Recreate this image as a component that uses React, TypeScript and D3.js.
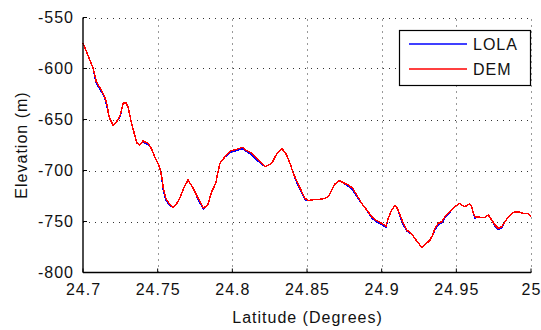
import React from "react";
import * as d3 from "d3";

const latitude = [24.7, 24.7067, 24.7089, 24.7123, 24.7145, 24.7161, 24.7174, 24.7201, 24.7223, 24.725, 24.7268, 24.7286, 24.7301, 24.7323, 24.7346, 24.7362, 24.738, 24.7402, 24.7435, 24.7457, 24.748, 24.7502, 24.7518, 24.7529, 24.7536, 24.7554, 24.7576, 24.7603, 24.7629, 24.7652, 24.7674, 24.7703, 24.7732, 24.7772, 24.7806, 24.7835, 24.7862, 24.7889, 24.7902, 24.7917, 24.7951, 24.7991, 24.8029, 24.8067, 24.8096, 24.813, 24.8174, 24.8219, 24.8264, 24.8297, 24.8331, 24.8364, 24.8386, 24.8408, 24.8438, 24.8465, 24.8487, 24.8509, 24.8554, 24.8587, 24.8621, 24.8643, 24.8665, 24.8688, 24.8716, 24.8743, 24.8777, 24.8806, 24.8833, 24.8866, 24.89, 24.8933, 24.8967, 24.9, 24.9029, 24.9044, 24.9067, 24.9089, 24.9105, 24.9123, 24.9145, 24.9168, 24.9201, 24.923, 24.9268, 24.929, 24.9324, 24.9342, 24.9357, 24.9379, 24.9402, 24.9424, 24.9446, 24.9469, 24.9491, 24.952, 24.9536, 24.9558, 24.9587, 24.9603, 24.9614, 24.9625, 24.9658, 24.9692, 24.9714, 24.9737, 24.9759, 24.9781, 24.9804, 24.9826, 24.9848, 24.9882, 24.9915, 24.9949, 24.9982, 25.0];

const demElevation = [-575, -599.5, -612.9, -621.1, -627.6, -635.8, -647.3, -655.4, -652.7, -645.6, -634.1, -633.1, -637.5, -652.2, -665.2, -673.3, -675.0, -671.1, -673.3, -678.2, -686.5, -692.9, -699.5, -707.6, -715.9, -727.3, -732.2, -736.5, -732.2, -725.7, -717.5, -709.3, -715.9, -727.3, -737.1, -733.8, -720.8, -712.5, -702.7, -692.9, -686.5, -680.6, -679.2, -677.3, -680.6, -683.1, -689.7, -696.3, -692.9, -683.8, -678.2, -684.8, -692.9, -702.7, -712.5, -720.8, -727.3, -729.6, -728.2, -728.2, -727.3, -725.7, -719.1, -713.2, -710.0, -712.0, -714.2, -717.5, -724.0, -732.2, -738.7, -745.3, -749.2, -751.8, -754.4, -746.9, -738.7, -734.5, -737.1, -743.6, -751.8, -758.3, -762.3, -768.1, -775.3, -773.0, -768.1, -763.2, -756.7, -751.8, -750.2, -745.3, -742.0, -738.7, -735.5, -732.2, -733.8, -735.5, -732.8, -735.5, -742.0, -745.3, -745.9, -745.9, -743.6, -748.5, -753.4, -756.7, -755.1, -750.2, -745.3, -741.0, -740.4, -742.0, -742.0, -745.3];

const lolaElevation = [-575, -599.5, -614.5, -622.5, -629, -637, -647.3, -655.4, -652.7, -647, -634.1, -633.1, -637.5, -652.2, -665.2, -673.3, -675.0, -672, -674.5, -678.2, -686.5, -692.9, -699.5, -709, -718, -728.5, -733.5, -736.5, -732.2, -725.7, -717.5, -709.3, -715.9, -728.5, -738, -733.8, -720.8, -712.5, -702.7, -692.9, -686.5, -682, -680.5, -678.5, -681.5, -684.5, -691, -696.3, -692.9, -683.8, -678.2, -684.8, -692.9, -702.7, -714, -722, -728.5, -729.6, -728.2, -728.2, -727.3, -725.7, -719.1, -713.2, -710.0, -712.0, -715.5, -719, -725.5, -732.2, -738.7, -746.5, -750.5, -753, -755.5, -746.9, -738.7, -734.5, -737.1, -745, -753, -759.5, -762.3, -768.1, -775.3, -773.0, -768.1, -763.2, -758, -753, -751.5, -746.5, -743, -738.7, -735.5, -732.2, -733.8, -735.5, -732.8, -735.5, -742.0, -746.5, -745.9, -745.9, -743.6, -748.5, -754.5, -757.8, -756.3, -750.2, -745.3, -741.0, -740.4, -742.0, -742.0, -745.3];

const xTicks = [24.7, 24.75, 24.8, 24.85, 24.9, 24.95, 25];
const xTickLabels = ["24.7", "24.75", "24.8", "24.85", "24.9", "24.95", "25"];
const yTicks = [-550, -600, -650, -700, -750, -800];
const seriesNames = ["LOLA", "DEM"];
const seriesColors = ["#0000ff", "#ff0000"];

const W = 541;
const H = 330;
const left = 83;
const right = 531;
const top = 17.5;
const bottom = 272.5;
const font = "'Liberation Sans', Arial, Helvetica, sans-serif";

export default function App() {
  const x = d3.scaleLinear().domain([24.7, 25]).range([left, right]);
  const y = d3.scaleLinear().domain([-800, -550]).range([bottom, top]);
  const line = d3
    .line<number>()
    .x((_, i) => x(latitude[i]))
    .y((d) => y(d))
    .curve(d3.curveLinear);

  const series = [lolaElevation, demElevation];

  return (
    <svg
      width={W}
      height={H}
      style={{ position: "absolute", left: 0, top: 0, background: "#fff" }}
      fontFamily={font}
    >
      <rect x={0} y={0} width={W} height={H} fill="#fff" />
      {/* grid */}
      <g stroke="#333" strokeWidth={1} strokeDasharray="1,5">
        {xTicks.slice(1).map((t) => (
          <line key={"gx" + t} x1={Math.round(x(t)) + 0.5} x2={Math.round(x(t)) + 0.5} y1={bottom} y2={top} />
        ))}
        {yTicks.slice(0, -1).map((t) => (
          <line key={"gy" + t} x1={left} x2={right} y1={Math.round(y(t)) + 0.5} y2={Math.round(y(t)) + 0.5} />
        ))}
      </g>
      {/* data */}
      {series.map((s, i) => (
        <path
          key={seriesNames[i]}
          d={line(s) || ""}
          fill="none"
          stroke={seriesColors[i]}
          strokeWidth={1.5}
          strokeLinejoin="round"
          shapeRendering="crispEdges"
        />
      ))}
      {/* axes */}
      <g stroke="#000" strokeWidth={1.4} fill="none">
        <line x1={left} x2={left} y1={top} y2={bottom} />
        <line x1={left} x2={right} y1={bottom} y2={bottom} />
        {xTicks.map((t) => (
          <line key={"tx" + t} x1={x(t)} x2={x(t)} y1={bottom} y2={bottom - 4} strokeWidth={1} />
        ))}
        {yTicks.map((t) => (
          <line key={"ty" + t} x1={left} x2={left + 4} y1={y(t)} y2={y(t)} strokeWidth={1} />
        ))}
      </g>
      {/* tick labels */}
      <g fontSize={16} fill="#111" letterSpacing={1}>
        {yTicks.map((t) => (
          <text key={"ly" + t} x={left - 9} y={y(t) + 5.8} textAnchor="end">
            {String(t)}
          </text>
        ))}
        {xTicks.map((t, i) => (
          <text key={"lx" + t} x={x(t) + 0.5} y={295} textAnchor="middle">
            {xTickLabels[i]}
          </text>
        ))}
        <text x={(left + right) / 2 + 0.5} y={322.5} textAnchor="middle">
          Latitude (Degrees)
        </text>
        <text transform={`translate(26.5, ${(top + bottom) / 2}) rotate(-90)`} textAnchor="middle">
          Elevation (m)
        </text>
      </g>
      {/* legend */}
      <g>
        <rect x={399.5} y={30.5} width={131} height={55} fill="#fff" stroke="#000" strokeWidth={1.2} />
        {seriesNames.map((n, i) => (
          <g key={"lg" + n}>
            <line x1={409} x2={467} y1={44 + i * 25} y2={44 + i * 25} stroke={seriesColors[i]} strokeWidth={1.3} />
            <text x={473} y={50 + i * 25} fontSize={16} letterSpacing={1} fill="#111">
              {n}
            </text>
          </g>
        ))}
      </g>
    </svg>
  );
}
